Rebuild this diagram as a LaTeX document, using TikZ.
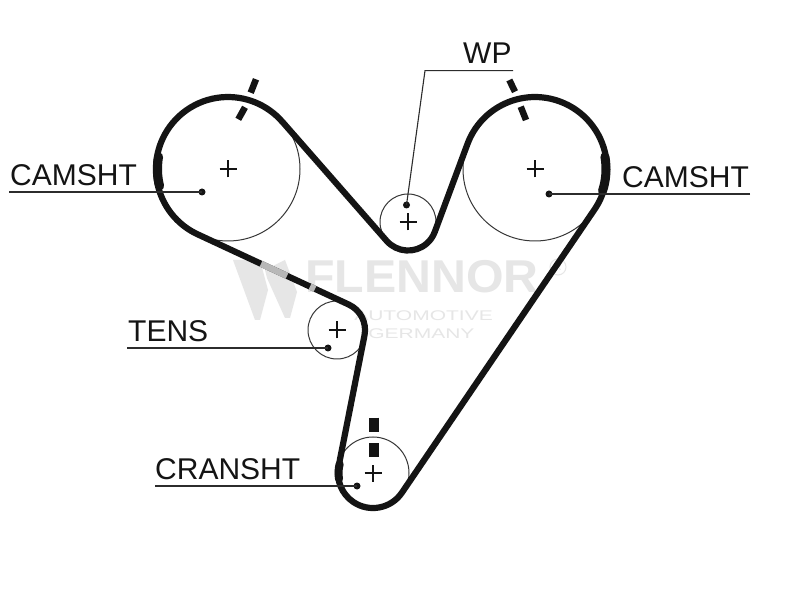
\documentclass[tikz,border=0pt]{standalone}
\usepackage{fontspec}
\setmainfont{Liberation Sans}
\definecolor{wm}{HTML}{E6E6E6}
\definecolor{ink}{HTML}{141414}
\tikzset{
  belt/.style={draw=ink,line width=6.2pt,line join=round},
  thickbelt/.style={draw=ink,line width=9pt,line cap=round},
  wheel/.style={draw=ink!85,line width=1pt},
  crossmark/.style={draw=ink,line width=1.1pt},
  leader/.style={draw=ink!90,line width=1.1pt},
  dotmark/.style={fill=ink,circle,inner sep=0pt,minimum size=7pt},
  timing/.style={draw=ink,line width=6.5pt},
  timingwide/.style={draw=ink,line width=9.3pt},
  lab/.style={anchor=base west,inner sep=0pt,text=ink,font=\fontsize{30}{32}\selectfont},
  wmtext/.style={anchor=base west,inner sep=0pt,text=wm}
}
\begin{document}
\begin{tikzpicture}[x=1pt,y=1pt]
\useasboundingbox (0,0) rectangle (800,600);
\fill[white] (0,0) rectangle (800,600);
% watermark
\fill[wm] (233,340) -- (260,340) -- (268,310) -- (260,280) -- (255,280) -- cycle;
\fill[wm] (265,330) -- (285,340) -- (297,308) -- (290,282) -- (285,282) -- (267,322) -- cycle;
\node[wmtext,xscale=1.05,font=\bfseries\fontsize{46}{48}\selectfont] (brand) at (305,307) {FLENNOR};
\node[wmtext,xscale=1.5,font=\fontsize{14}{16}\selectfont] (auto) at (354,279) {AUTOMOTIVE};
\node[wmtext,xscale=1.5,font=\fontsize{14}{16}\selectfont] (germ) at (368,261) {GERMANY};
\draw[wm,line width=1pt] (558,333) circle (8);
\node[text=wm,inner sep=0pt,font=\fontsize{10}{10}\selectfont] (regm) at (558,333) {R};
% pulleys
\coordinate (camL) at (228,431);
\coordinate (camR) at (535,431);
\coordinate (wp) at (408,378);
\coordinate (tens) at (337,270);
\coordinate (crank) at (373,127);
\draw[wheel] (camL) circle (72);
\draw[wheel] (camR) circle (72);
\draw[wheel] (wp) circle (28);
\draw[wheel] (tens) circle (29);
\draw[wheel] (crank) circle (36);
% centre crosses
\foreach \c in {camL,camR,wp,tens,crank}{
  \draw[crossmark] ([xshift=-8.5pt]\c) -- ([xshift=8.5pt]\c);
  \draw[crossmark] ([yshift=-8.5pt]\c) -- ([yshift=8.5pt]\c);
}
% belt
\draw[belt] (282.2,478.4) -- (386.6,359.2)
  arc[start angle=-138.79,end angle=-20.43,radius=28.5]
  -- (467.5,456.1)
  arc[start angle=-200.43,end angle=-394.22,radius=72]
  -- (401.9,107.3)
  arc[start angle=-34.22,end angle=-191.15,radius=35]
  -- (364.5,264.6)
  arc[start angle=-11.15,end angle=65.06,radius=28]
  -- (197.6,365.7)
  arc[start angle=-114.94,end angle=-318.79,radius=72]
  -- cycle;
% thicker belt stretches
\draw[thickbelt] (camL) ++(170:70.5) arc[start angle=170,end angle=194,radius=70.5];
\draw[thickbelt] (camR) ++(10:71) arc[start angle=10,end angle=-18,radius=71];
\draw[draw=ink,line width=8pt,line cap=round] (crank) ++(190:34.5) arc[start angle=190,end angle=165,radius=34.5];
% watermark across belt
\draw[wm!80!black,line width=6.4pt] (261,336.2) -- (287,324.1);
\draw[wm!80!black,line width=6.4pt] (310,313.4) -- (315,311.1);
% timing marks
\draw[timing] (256,520.7) -- (250.7,507.3);
\draw[timing] (245,492.7) -- (238.3,480.7);
\draw[timing] (509.3,520) -- (515,508.3);
\draw[timing] (520.7,493.3) -- (526,480);
\draw[timingwide] (374,182.3) -- (374,168.3);
\draw[timingwide] (374,156.7) -- (374,142.7);
% labels
\node[lab] (lblCamL) at (10,414) {CAMSHT};
\node[lab] (lblCamR) at (622,412) {CAMSHT};
\node[lab] (lblWp) at (463,536) {WP};
\node[lab] (lblTens) at (128,258) {TENS};
\node[lab] (lblCrank) at (155,121) {CRANSHT};
% leaders
\node[dotmark] (dCamL) at (202,408) {};
\node[dotmark] (dCamR) at (549,406) {};
\node[dotmark] (dWp) at (406.5,395) {};
\node[dotmark] (dTens) at (328,252) {};
\node[dotmark] (dCrank) at (357,114) {};
\coordinate (eCamL) at (9,408);
\coordinate (eCamR) at (750,406);
\coordinate (kWp) at (425,529.3);
\coordinate (eWp) at (513,529.3);
\coordinate (eTens) at (127,252);
\coordinate (eCrank) at (155,114);
\draw[leader] (eCamL) -- (dCamL.center);
\draw[leader] (eCamR) -- (dCamR.center);
\draw[leader] (eWp) -- (kWp) -- (dWp.center);
\draw[leader] (eTens) -- (dTens.center);
\draw[leader] (eCrank) -- (dCrank.center);
\end{tikzpicture}
\end{document}
